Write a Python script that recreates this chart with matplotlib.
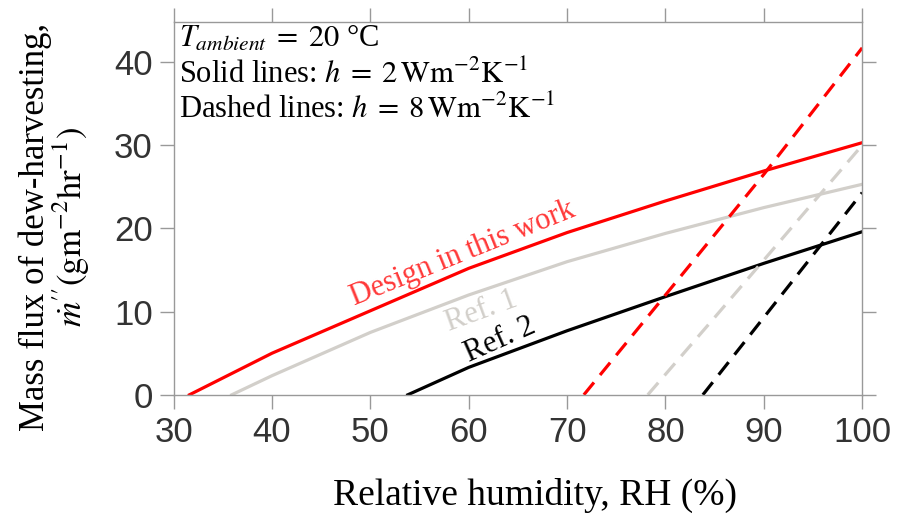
import matplotlib
matplotlib.use("Agg")
import matplotlib.pyplot as plt
import numpy as np

plt.rcParams['mathtext.fontset'] = 'stix'

# solid lines, h = 2 W m^-2 K^-1
rh_design = [31.6, 40, 50, 60, 70, 80, 90, 100]
m_design = [0.0, 5.0, 10.1, 15.2, 19.5, 23.3, 26.9, 30.3]
rh_ref1 = [35.9, 40, 50, 60, 70, 80, 90, 100]
m_ref1 = [0.0, 2.3, 7.5, 12.0, 16.0, 19.4, 22.5, 25.3]
rh_ref2 = [53.8, 60, 70, 80, 90, 100]
m_ref2 = [0.0, 3.3, 7.7, 11.8, 15.8, 19.6]

# dashed lines, h = 8 W m^-2 K^-1
rh_design_d = [71.7, 80, 90, 100]
m_design_d = [0.0, 12.0, 26.5, 41.7]
rh_ref1_d = [78.2, 85, 90, 100]
m_ref1_d = [0.0, 9.3, 16.2, 30.0]
rh_ref2_d = [83.8, 90, 95, 100]
m_ref2_d = [0.0, 9.3, 16.8, 24.3]

RED = '#ff0000'
GREY = '#d2cfca'
BLACK = '#000000'
SPINE = '#999999'
LW = 2.3
DASH = (0, (5, 3))

fig = plt.figure(figsize=(9, 5.25), dpi=100)
ax = fig.add_axes([0.193, 0.248, 0.765, 0.71])

ax.plot(rh_design, m_design, color=RED, lw=LW)
ax.plot(rh_ref1, m_ref1, color=GREY, lw=LW)
ax.plot(rh_ref2, m_ref2, color=BLACK, lw=LW)
ax.plot(rh_design_d, m_design_d, color=RED, lw=LW, linestyle=DASH)
ax.plot(rh_ref1_d, m_ref1_d, color=GREY, lw=LW, linestyle=DASH)
ax.plot(rh_ref2_d, m_ref2_d, color=BLACK, lw=LW, linestyle=DASH)

ax.set_xlim(30, 100)
ax.set_ylim(0, 44.8)
ax.set_xticks(np.arange(30, 101, 10))
ax.set_yticks(np.arange(0, 41, 10))

for s in ax.spines.values():
    s.set_color(SPINE)
    s.set_linewidth(1.0)
ax.tick_params(direction='out', length=10, width=1.0, color=SPINE,
               labelsize=25, labelcolor='#333333',
               top=True, right=True, pad=5)
for lab in ax.get_xticklabels() + ax.get_yticklabels():
    lab.set_family('Liberation Sans')

serif = 'Liberation Serif'
ax.set_xlabel('Relative humidity, RH (%)', family=serif, fontsize=27)
ax.xaxis.set_label_coords(0.525, -0.222)
ax.set_ylabel('Mass flux of dew-harvesting,\n' + r"$\dot{m}''(\mathrm{gm^{-2}hr^{-1}})$",
              family=serif, fontsize=25, linespacing=0.95)
ax.yaxis.set_label_coords(-0.118, 0.45)

box = 22
ax.text(0.008, 0.933, r'$T_{ambient}\;=\;20$ °C', transform=ax.transAxes,
        family=serif, fontsize=box, va='baseline', ha='left')
ax.text(0.008, 0.836, r'Solid lines: $h\;=\;2\,\mathrm{Wm^{-2}K^{-1}}$', transform=ax.transAxes,
        family=serif, fontsize=box, va='baseline', ha='left')
ax.text(0.008, 0.743, r'Dashed lines: $h\;=\;8\,\mathrm{Wm^{-2}K^{-1}}$', transform=ax.transAxes,
        family=serif, fontsize=box, va='baseline', ha='left')

ax.text(59.4, 17.0, 'Design in this work', color='#ff3838', family=serif,
        fontsize=22, rotation=22, ha='center', va='center')
ax.text(61.3, 10.0, 'Ref. 1', color=GREY, family=serif,
        fontsize=22, rotation=20, ha='center', va='center')
ax.text(63.2, 6.6, 'Ref. 2', color=BLACK, family=serif,
        fontsize=22, rotation=24, ha='center', va='center')

fig.savefig('out.png', dpi=100)
